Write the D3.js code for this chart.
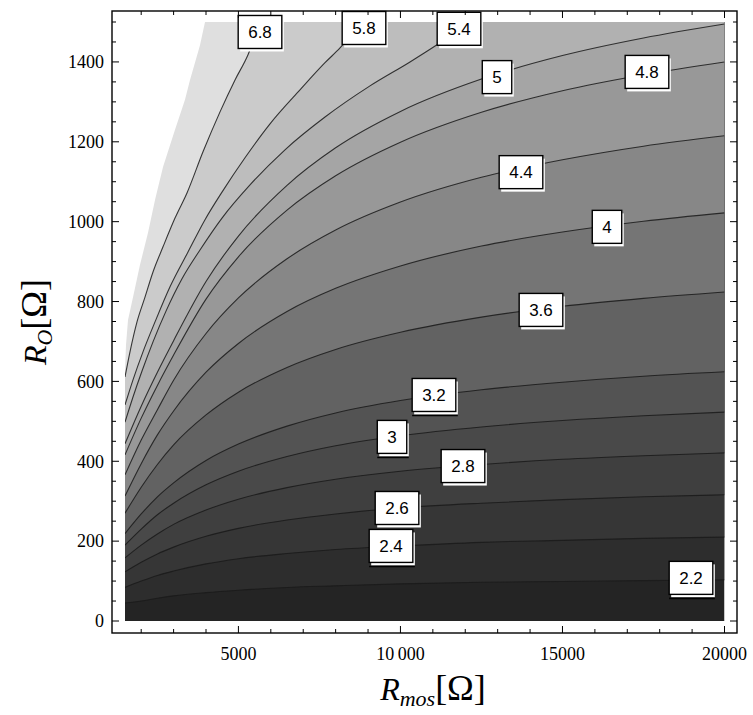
<!DOCTYPE html>
<html><head><meta charset="utf-8">
<script src="https://cdn.jsdelivr.net/npm/d3@7"></script>
<style>body{margin:0;background:#fff}</style>
</head><body><svg id="c" width="753" height="715"></svg>
<script>
// ---------------- data ----------------
const levels     = [2.2, 2.4, 2.6, 2.8, 3.0, 3.2, 3.6, 4.0, 4.4, 4.8, 5.0, 5.4, 5.8, 6.8];
const levelText  = ["2.2","2.4","2.6","2.8","3","3.2","3.6","4","4.4","4.8","5","5.4","5.8","6.8"];
// contour lines: [Rmos, RO] pairs
const c22 = [[1500,45],[2000,50],[2500,57],[3000,63],[4000,71],[5000,77],[6500,84],[8000,88],[10000,93],[12500,97],[15000,99],[17500,101],[20000,103]];
const c24 = [[1500,84],[2000,100],[2500,114],[3000,125],[4000,143],[5000,156],[6500,169],[8000,179],[10000,188],[12500,197],[15000,202],[17500,207],[20000,210]];
const c26 = [[1500,123],[2000,147],[2500,168],[3000,185],[4000,212],[5000,232],[6500,253],[8000,268],[10000,283],[12500,295],[15000,304],[17500,311],[20000,316]];
const c28 = [[1500,158],[2000,190],[2500,218],[3000,242],[4000,278],[5000,305],[6500,334],[8000,355],[10000,375],[12500,392],[15000,405],[17500,414],[20000,421]];
const c30 = [[1500,190],[2000,230],[2500,266],[3000,295],[4000,341],[5000,375],[6500,412],[8000,439],[10000,464],[12500,486],[15000,502],[17500,514],[20000,523]];
const c32 = [[1500,219],[2000,268],[2500,311],[3000,346],[4000,402],[5000,443],[6500,488],[8000,521],[10000,552],[12500,579],[15000,598],[17500,613],[20000,624]];
const c36 = [[1500,270],[2000,335],[2500,392],[3000,441],[4000,516],[5000,573],[6500,635],[8000,680],[10000,723],[12500,761],[15000,788],[17500,808],[20000,824]];
const c40 = [[1500,313],[2000,394],[2500,466],[3000,526],[4000,623],[5000,695],[6500,775],[8000,833],[10000,889],[12500,939],[15000,974],[17500,1001],[20000,1022]];
const c44 = [[1500,366],[2000,453],[2500,529],[3000,603],[4000,720],[5000,809],[6500,907],[8000,979],[10000,1049],[12500,1111],[15000,1155],[17500,1189],[20000,1215]];
const c48 = [[1500,416],[2000,508],[2500,590],[3000,666],[4000,806],[5000,912],[6500,1029],[8000,1115],[10000,1199],[12500,1274],[15000,1328],[17500,1368],[20000,1400]];
const c50 = [[1500,444],[2000,538],[2500,623],[3000,702],[4000,850],[5000,964],[6500,1091],[8000,1185],[10000,1276],[12500,1357],[15000,1416],[17500,1460],[20000,1495]];
const c54 = [[1500,498],[1747,561],[2025,626],[2364,699],[2765,776],[3259,857],[3814,929],[4493,1009],[5357,1092],[6437,1180],[7672,1262],[9060,1340],[10295,1400],[11128,1443],[12146,1500]];
const c58 = [[1500,541],[1747,604],[2055,674],[2426,749],[2889,837],[3444,924],[3969,1005],[4493,1074],[5203,1160],[5975,1245],[6900,1330],[7672,1398],[8135,1435],[8814,1500]];
const c68 = [[1500,611],[1654,674],[1870,749],[2117,811],[2364,874],[2673,937],[3043,1009],[3413,1072],[3907,1175],[4432,1275],[4895,1355],[5296,1418],[5666,1500]];
const contours = [c22,c24,c26,c28,c30,c32,c36,c40,c44,c48,c50,c54,c58,c68];
// boundary of the undefined (white) region
const whiteEdge = [[1500,629],[1531,691],[1593,754],[1747,811],[1963,892],[2210,972],[2426,1054],[2673,1137],[3043,1230],[3351,1305],[3506,1355],[3814,1442],[3969,1500]];
// label anchors [Rmos, RO]
const labelPos = [[18966,108],[9709,188],[9894,283],[11930,388],[9740,461],[11035,566],[14337,779],[16374,987],[13720,1124],[17608,1375],[12980,1362],[11807,1483],[8875,1485],[5666,1475]];
const underlined = ["2.2","2.4","3","3.2"];
// band shades: below first level, then above each level
const bandColors = ["#242424","#2d2d2d","#363636","#3f3f3f","#494949","#535353","#626262","#757575","#878787","#989898","#a5a5a5","#b1b1b1","#bdbdbd","#cbcbcb","#dfdfdf"];
const xTicksMajor = [5000,10000,15000,20000];
const xTickLabels = ["5000","10\u2009000","15000","20000"];
const yTicksMajor = [0,200,400,600,800,1000,1200,1400];

// ---------------- drawing ----------------
const svg = d3.select("#c");
const x = d3.scaleLinear().domain([1500,20000]).range([125,724.5]);
const y = d3.scaleLinear().domain([0,1500]).range([621,22]);
const line = d3.line().x(d=>x(d[0])).y(d=>y(d[1])).curve(d3.curveMonotoneX);

svg.append("defs").append("clipPath").attr("id","clip")
  .append("rect").attr("x",x(1500)).attr("y",y(1500))
  .attr("width",x(20000)-x(1500)).attr("height",y(0)-y(1500));

const g = svg.append("g").attr("clip-path","url(#clip)");
g.append("rect").attr("x",x(1500)).attr("y",y(1500))
  .attr("width",x(20000)-x(1500)).attr("height",y(0)-y(1500)).attr("fill",bandColors[0]);

contours.forEach((pts,i)=>{
  const last = pts[pts.length-1];
  let d = line(pts);
  if (last[0] >= 20000) d += `L${x(20000)},${y(1500)}`;
  d += `L${x(1500)},${y(1500)}Z`;
  g.append("path").attr("d",d).attr("fill",bandColors[i+1]);
});

// white (undefined) region
{
  const lin = d3.line().x(d=>x(d[0])).y(d=>y(d[1]));
  g.append("path").attr("d", lin(whiteEdge) + `L${x(1500)},${y(1500)}Z`).attr("fill","#fff");
}

// contour lines
contours.forEach(pts=>{
  g.append("path").attr("d",line(pts)).attr("fill","none")
   .attr("stroke","#1a1a1a").attr("stroke-opacity",0.85).attr("stroke-width",1.1);
});

// labels
const lab = svg.append("g");
labelPos.forEach((p,i)=>{
  const cx = x(p[0]), cy = y(p[1]);
  const t = lab.append("text").attr("x",cx).attr("y",cy).attr("text-anchor","middle")
    .attr("dy","0.36em").attr("font-family","Liberation Sans, Arial, sans-serif")
    .attr("font-size",17).text(levelText[i]);
  const w = t.node().getComputedTextLength() + 20, h = 33;
  lab.insert("rect","text").attr("x",cx-w/2+2).attr("y",cy-h/2+3).attr("width",w).attr("height",h).attr("fill","#fff");
  lab.insert("rect","text").attr("x",cx-w/2).attr("y",cy-h/2).attr("width",w).attr("height",h)
    .attr("fill","#fff").attr("stroke","#000").attr("stroke-width",1.4);
  if (underlined.includes(levelText[i])) {
    lab.append("line").attr("x1",cx-w/2).attr("x2",cx+w/2+2).attr("y1",cy+h/2+4).attr("y2",cy+h/2+4)
      .attr("stroke","#000").attr("stroke-width",1.6);
  }
});

// frame
const fx0=112, fx1=737, fy0=11, fy1=633;
svg.append("rect").attr("x",fx0).attr("y",fy0).attr("width",fx1-fx0).attr("height",fy1-fy0)
  .attr("fill","none").attr("stroke","#000").attr("stroke-width",1.4);

const ax = svg.append("g").attr("stroke","#000").attr("stroke-width",1);
d3.range(2000,20001,1000).forEach(v=>{
  const L = xTicksMajor.includes(v) ? 7 : 4;
  ax.append("line").attr("x1",x(v)).attr("x2",x(v)).attr("y1",fy1).attr("y2",fy1-L);
  ax.append("line").attr("x1",x(v)).attr("x2",x(v)).attr("y1",fy0).attr("y2",fy0+L);
});
d3.range(0,1501,50).forEach(v=>{
  const L = yTicksMajor.includes(v) ? 7 : 4;
  ax.append("line").attr("y1",y(v)).attr("y2",y(v)).attr("x1",fx0).attr("x2",fx0+L);
  ax.append("line").attr("y1",y(v)).attr("y2",y(v)).attr("x1",fx1).attr("x2",fx1-L);
});

const tf = "Liberation Serif, Times New Roman, serif";
xTicksMajor.forEach((v,i)=>{
  svg.append("text").attr("x",x(v)).attr("y",660).attr("text-anchor","middle")
    .attr("font-family",tf).attr("font-size",18).text(xTickLabels[i]);
});
yTicksMajor.forEach(v=>{
  svg.append("text").attr("x",104).attr("y",y(v)).attr("dy","0.35em").attr("text-anchor","end")
    .attr("font-family",tf).attr("font-size",18).text(v);
});

// axis titles
const xt = svg.append("text").attr("x",433).attr("y",700).attr("text-anchor","middle")
  .attr("font-family",tf).attr("font-size",32);
xt.append("tspan").attr("font-style","italic").text("R");
xt.append("tspan").attr("font-style","italic").attr("font-size",22).attr("dy",6).text("mos");
xt.append("tspan").attr("dy",-6).attr("font-size",36).text("[Ω]");

const yt = svg.append("text").attr("transform","translate(46,322) rotate(-90)").attr("text-anchor","middle")
  .attr("font-family",tf).attr("font-size",32);
yt.append("tspan").attr("font-style","italic").text("R");
yt.append("tspan").attr("font-style","italic").attr("font-size",22).attr("dy",6).text("O");
yt.append("tspan").attr("dy",-6).attr("font-size",36).text("[Ω]");
</script>
</body></html>
